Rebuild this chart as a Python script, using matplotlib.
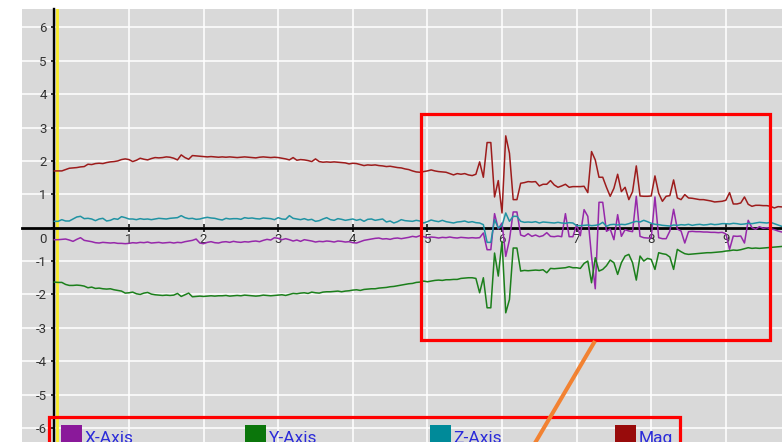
import numpy as np
import matplotlib
matplotlib.use("Agg")
import matplotlib.pyplot as plt
from matplotlib.patches import Rectangle
from matplotlib.lines import Line2D
from matplotlib.transforms import ScaledTranslation

# ---------------- data (sampled every 0.05 s) ----------------
SAMPLE_INTERVAL = 0.05

x_axis = [
    -0.36, -0.36, -0.35, -0.34, -0.37, -0.41, -0.35, -0.30, -0.38, -0.40, -0.42, -0.45, -0.46, -0.44, -0.45, -0.46, -0.45, -0.47, -0.47, -0.48,
    -0.47, -0.45, -0.46, -0.44, -0.45, -0.43, -0.46, -0.45, -0.44, -0.46, -0.45, -0.44, -0.46, -0.44, -0.45, -0.42, -0.40, -0.38, -0.34, -0.46,
    -0.48, -0.44, -0.42, -0.45, -0.46, -0.43, -0.42, -0.44, -0.41, -0.43, -0.44, -0.42, -0.43, -0.41, -0.40, -0.42, -0.38, -0.35, -0.37, -0.30,
    -0.32, -0.36, -0.33, -0.36, -0.40, -0.37, -0.41, -0.36, -0.38, -0.40, -0.43, -0.41, -0.42, -0.40, -0.41, -0.43, -0.40, -0.41, -0.43, -0.42,
    -0.45, -0.46, -0.42, -0.38, -0.36, -0.34, -0.32, -0.31, -0.34, -0.33, -0.35, -0.32, -0.31, -0.33, -0.31, -0.29, -0.26, -0.28, -0.24, -0.27,
    -0.30, -0.28, -0.29, -0.31, -0.29, -0.30, -0.28, -0.30, -0.31, -0.29, -0.30, -0.31, -0.30, -0.31, -0.30, -0.16, -0.66, -0.66, 0.42, -0.04,
    0.14, -0.86, -0.36, 0.47, 0.47, -0.22, -0.26, -0.18, -0.26, -0.22, -0.27, -0.24, -0.15, -0.26, -0.27, -0.25, -0.27, 0.42, -0.27, -0.27,
    0.08, -0.24, 0.54, 0.34, -0.86, -1.83, 0.76, 0.76, -0.11, -0.04, -0.36, 0.39, -0.26, -0.06, -0.10, -0.12, 0.94, -0.26, -0.30, -0.31,
    -0.31, 0.92, -0.30, -0.33, -0.33, -0.10, 0.55, -0.04, -0.10, -0.46, -0.12, -0.11, -0.12, -0.12, -0.13, -0.13, -0.14, -0.14, -0.15, -0.14,
    -0.18, -0.65, -0.25, -0.26, -0.25, -0.46, 0.22, 0.00, -0.05, 0.03, -0.02, 0.00, -0.03, -0.06, -0.10, -0.13, -0.14,
]

y_axis = [
    -1.63, -1.64, -1.64, -1.70, -1.73, -1.73, -1.72, -1.73, -1.75, -1.80, -1.78, -1.82, -1.81, -1.83, -1.84, -1.83, -1.86, -1.88, -1.90, -1.96,
    -1.95, -1.93, -1.98, -2.00, -1.96, -1.94, -1.99, -2.01, -2.02, -2.03, -2.02, -2.03, -2.02, -1.97, -2.06, -2.01, -1.96, -2.07, -2.06, -2.05,
    -2.06, -2.05, -2.04, -2.05, -2.04, -2.04, -2.03, -2.05, -2.04, -2.03, -2.04, -2.02, -2.03, -2.04, -2.05, -2.04, -2.02, -2.03, -2.04, -2.03,
    -2.02, -2.01, -2.03, -2.00, -1.97, -1.98, -1.96, -1.95, -1.97, -1.93, -1.95, -1.96, -1.93, -1.92, -1.92, -1.91, -1.90, -1.92, -1.90, -1.89,
    -1.87, -1.86, -1.88, -1.85, -1.84, -1.83, -1.83, -1.81, -1.80, -1.79, -1.77, -1.76, -1.74, -1.72, -1.70, -1.68, -1.67, -1.64, -1.63, -1.60,
    -1.62, -1.60, -1.58, -1.57, -1.58, -1.56, -1.56, -1.55, -1.55, -1.52, -1.51, -1.50, -1.50, -1.52, -1.95, -1.50, -2.40, -2.40, -0.76, -1.45,
    -0.41, -2.55, -2.15, -0.61, -0.61, -1.30, -1.28, -1.29, -1.28, -1.27, -1.28, -1.26, -1.35, -1.22, -1.23, -1.22, -1.21, -1.20, -1.17, -1.20,
    -1.20, -1.22, -1.07, -1.00, -1.65, -0.90, -1.30, -1.25, -1.14, -0.97, -1.05, -1.40, -1.05, -0.85, -0.80, -1.05, -1.57, -0.85, -1.00, -0.92,
    -0.95, -1.25, -0.75, -0.78, -0.80, -0.88, -1.25, -0.65, -0.72, -0.78, -0.80, -0.79, -0.78, -0.77, -0.76, -0.75, -0.75, -0.74, -0.73, -0.72,
    -0.70, -0.69, -0.67, -0.68, -0.66, -0.63, -0.60, -0.62, -0.61, -0.62, -0.61, -0.60, -0.59, -0.58, -0.57, -0.56, -0.56,
]

z_axis = [
    0.19, 0.19, 0.24, 0.20, 0.20, 0.26, 0.32, 0.34, 0.27, 0.28, 0.26, 0.21, 0.26, 0.28, 0.20, 0.22, 0.27, 0.25, 0.33, 0.30,
    0.26, 0.26, 0.24, 0.27, 0.25, 0.26, 0.24, 0.26, 0.28, 0.27, 0.26, 0.28, 0.29, 0.30, 0.36, 0.30, 0.27, 0.28, 0.25, 0.26,
    0.29, 0.31, 0.29, 0.28, 0.25, 0.23, 0.28, 0.26, 0.27, 0.27, 0.25, 0.30, 0.28, 0.29, 0.27, 0.26, 0.29, 0.28, 0.27, 0.24,
    0.30, 0.26, 0.25, 0.36, 0.28, 0.26, 0.24, 0.27, 0.23, 0.25, 0.19, 0.21, 0.26, 0.30, 0.24, 0.22, 0.27, 0.25, 0.22, 0.24,
    0.26, 0.22, 0.25, 0.19, 0.25, 0.26, 0.22, 0.24, 0.26, 0.17, 0.20, 0.14, 0.18, 0.24, 0.21, 0.20, 0.19, 0.22, 0.20, 0.14,
    0.18, 0.23, 0.20, 0.18, 0.22, 0.18, 0.16, 0.14, 0.17, 0.18, 0.20, 0.16, 0.18, 0.15, 0.14, 0.09, -0.44, -0.44, 0.24, -0.01,
    0.06, 0.44, 0.19, 0.34, 0.34, 0.19, 0.16, 0.17, 0.16, 0.18, 0.14, 0.17, 0.16, 0.15, 0.14, 0.16, 0.14, 0.13, 0.15, 0.14,
    0.06, 0.06, 0.07, 0.08, 0.06, 0.07, 0.09, 0.16, 0.04, 0.09, 0.10, 0.08, 0.10, 0.09, 0.12, 0.16, 0.19, 0.17, 0.22, 0.18,
    0.13, 0.10, 0.09, 0.07, 0.06, 0.05, 0.08, 0.07, 0.09, 0.08, 0.10, 0.07, 0.09, 0.10, 0.08, 0.09, 0.11, 0.09, 0.10, 0.12,
    0.12, 0.11, 0.13, 0.12, 0.10, 0.11, 0.13, 0.12, 0.14, 0.16, 0.15, 0.14, 0.16, 0.12, 0.08, 0.04, 0.06,
]

mag = [
    1.70, 1.70, 1.70, 1.74, 1.78, 1.79, 1.80, 1.82, 1.83, 1.90, 1.89, 1.92, 1.93, 1.92, 1.95, 1.97, 1.98, 2.00, 2.04, 2.06,
    2.04, 1.98, 2.02, 2.08, 2.05, 2.03, 2.07, 2.10, 2.09, 2.10, 2.12, 2.11, 2.08, 2.03, 2.18, 2.10, 2.05, 2.16, 2.15, 2.14,
    2.13, 2.12, 2.13, 2.12, 2.11, 2.12, 2.11, 2.12, 2.11, 2.10, 2.11, 2.12, 2.11, 2.10, 2.09, 2.11, 2.12, 2.11, 2.10, 2.11,
    2.10, 2.08, 2.06, 2.03, 2.10, 2.02, 2.04, 2.03, 2.01, 1.98, 2.06, 1.98, 1.96, 1.97, 1.96, 1.97, 1.96, 1.95, 1.94, 1.91,
    1.93, 1.92, 1.89, 1.86, 1.88, 1.87, 1.88, 1.86, 1.85, 1.83, 1.84, 1.82, 1.80, 1.79, 1.76, 1.74, 1.70, 1.67, 1.66, 1.68,
    1.70, 1.73, 1.70, 1.68, 1.67, 1.66, 1.62, 1.58, 1.62, 1.60, 1.62, 1.58, 1.56, 1.60, 1.97, 1.51, 2.55, 2.55, 0.92, 1.41,
    0.44, 2.75, 2.23, 0.84, 0.84, 1.33, 1.35, 1.38, 1.37, 1.38, 1.25, 1.30, 1.30, 1.41, 1.28, 1.21, 1.25, 1.30, 1.21, 1.23,
    1.23, 1.23, 1.24, 1.05, 2.28, 2.03, 1.51, 1.51, 1.21, 0.94, 1.18, 1.60, 1.08, 1.21, 0.84, 1.08, 1.85, 0.95, 0.94, 0.94,
    0.95, 1.55, 1.03, 0.79, 0.94, 0.96, 1.43, 0.89, 0.84, 0.99, 0.89, 0.88, 0.86, 0.84, 0.84, 0.82, 0.80, 0.77, 0.78, 0.79,
    0.82, 1.05, 0.71, 0.71, 0.74, 0.92, 0.70, 0.64, 0.67, 0.67, 0.66, 0.66, 0.64, 0.59, 0.63, 0.62, 0.62,
]

series_names = ["X-Axis", "Y-Axis", "Z-Axis", "Mag"]
x_ticks = [1, 2, 3, 4, 5, 6, 7, 8, 9]
y_ticks = [-6, -5, -4, -3, -2, -1, 0, 1, 2, 3, 4, 5, 6]

# ---------------- styling ----------------
line_colors = ["#9628aa", "#1b7f1b", "#2093a3", "#9d1c1c"]
swatch_colors = ["#8a199a", "#0b760b", "#008a99", "#980b0b"]
W, H = 782, 442

plt.rcParams["font.family"] = ["Roboto", "DejaVu Sans"]

fig = plt.figure(figsize=(W / 100, H / 100), dpi=100)
fig.patch.set_facecolor("white")
ax = fig.add_axes([22 / W, 0, (W - 22) / W, (H - 9) / H])
ax.set_facecolor("#d9d9d9")

ax.set_xlim(-0.434, 9.753)
ax.set_ylim(-6.42, 6.55)

for s in ("top", "right"):
    ax.spines[s].set_visible(False)
ax.spines["left"].set_position(("data", 0))
ax.spines["bottom"].set_position(("data", 0))
ax.spines["left"].set_linewidth(1.7)
ax.spines["bottom"].set_linewidth(2.0)
ax.spines["left"].set_color("black")
ax.spines["bottom"].set_color("black")
ax.spines["left"].set_zorder(2.5)
ax.spines["bottom"].set_zorder(2.5)

ax.set_xticks(x_ticks, labels=[str(v) for v in x_ticks])
ax.set_yticks(y_ticks, labels=[str(v) for v in y_ticks])
ax.tick_params(axis="x", direction="inout", length=6, width=1.1, pad=0.5,
               labelsize=9.5, labelcolor="#333333", color="black")
ax.tick_params(axis="y", direction="out", length=2.5, width=1.1, pad=3,
               labelsize=9.5, labelcolor="#333333", color="black")
ax.grid(True, color="white", linewidth=1.1, zorder=0)
ax.set_axisbelow(True)

# shift the "0" label down below the horizontal axis
for lab in ax.get_yticklabels():
    if lab.get_text() == "0":
        lab.set_transform(lab.get_transform() +
                          ScaledTranslation(0, -10 / 100, fig.dpi_scale_trans))

# yellow line next to the vertical axis
ax.plot([0, 0], [0, 1], color="#f8ec2c", linewidth=2.0, zorder=2.4,
        transform=ax.get_xaxis_transform() +
        ScaledTranslation(2.5 / 100, 0, fig.dpi_scale_trans))

t = np.arange(len(mag)) * SAMPLE_INTERVAL
for vals, name, col in zip([x_axis, y_axis, z_axis, mag], series_names, line_colors):
    ax.plot(t, vals, color=col, linewidth=1.1, label=name, zorder=3)


def fx(px):
    return px / W


def fy(py):
    return 1 - py / H


# legend drawn along the bottom (cut by the edge of the image, as in the reference)
legend_x = [60.7, 245, 430, 615]
for lx, name, col in zip(legend_x, series_names, swatch_colors):
    ax.add_patch(Rectangle((fx(lx), fy(446)), 21 / W, 21 / H, transform=fig.transFigure,
                           facecolor=col, edgecolor="none", clip_on=False, zorder=4))
    fig.text(fx(lx + 23.5), fy(443), name, color="#2b2bd9", fontsize=12.5,
             ha="left", va="baseline", zorder=5)

# red highlight boxes and orange connector
ax.add_patch(Rectangle((fx(420.7), fy(340)), (770 - 420.7) / W, (340 - 114) / H,
                       transform=fig.transFigure, fill=False, edgecolor="#ff0000",
                       linewidth=2.3, clip_on=False, zorder=6))
ax.add_patch(Rectangle((fx(49.3), fy(460)), (680 - 49.3) / W, (460 - 417.3) / H,
                       transform=fig.transFigure, fill=False, edgecolor="#ff0000",
                       linewidth=2.3, clip_on=False, zorder=6))
ax.add_line(Line2D([fx(595), fx(525)], [fy(341), fy(460)], transform=fig.transFigure,
                   color="#f28232", linewidth=2.9, clip_on=False, zorder=6,
                   solid_capstyle="butt"))

fig.savefig("out.png", dpi=100, facecolor="white")
